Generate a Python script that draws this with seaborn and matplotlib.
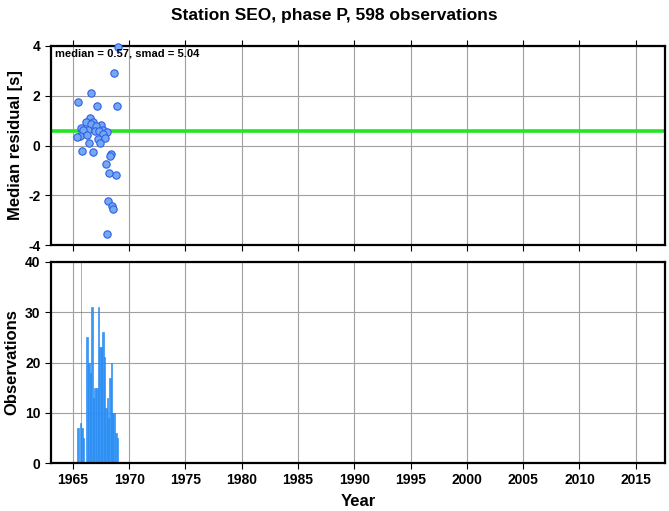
import numpy as np
import pandas as pd
import matplotlib
matplotlib.use("Agg")
import matplotlib.pyplot as plt
import seaborn as sns

# residual scatter (decimal year, median residual in s)
res_year = [1968.97, 1968.64, 1966.57, 1965.47, 1967.13, 1968.88, 1966.48, 1966.13,
            1966.80, 1966.60, 1967.49, 1967.04, 1965.74, 1966.30, 1965.92, 1967.63,
            1966.92, 1967.31, 1967.99, 1965.65, 1966.24, 1967.69, 1965.38, 1967.19,
            1967.84, 1966.42, 1967.40, 1965.83, 1966.75, 1968.40, 1968.29, 1967.90,
            1968.23, 1968.82, 1968.14, 1968.44, 1968.58, 1968.05]
res_value = [3.97, 2.90, 2.12, 1.74, 1.59, 1.59, 1.12, 0.93,
             0.93, 0.86, 0.83, 0.79, 0.69, 0.62, 0.61, 0.62,
             0.59, 0.58, 0.53, 0.39, 0.42, 0.45, 0.35, 0.25,
             0.31, 0.09, 0.11, -0.23, -0.26, -0.34, -0.42, -0.74,
             -1.12, -1.19, -2.22, -2.43, -2.55, -3.56]
median_res = 0.57
smad_res = 5.04

# observation counts per bin (bin start, bin end, count)
bin_start = [1965.355, 1965.592, 1965.735, 1965.760, 1965.888, 1966.154, 1966.362, 1966.510,
             1966.599, 1966.747, 1966.895, 1967.043, 1967.191, 1967.339, 1967.457, 1967.576,
             1967.753, 1967.872, 1967.990, 1968.108, 1968.197, 1968.345, 1968.434, 1968.582,
             1968.730, 1968.878]
bin_end = [1965.503, 1965.710, 1965.760, 1965.888, 1965.947, 1966.362, 1966.510, 1966.599,
           1966.747, 1966.895, 1967.043, 1967.191, 1967.339, 1967.457, 1967.576, 1967.753,
           1967.872, 1967.990, 1968.108, 1968.197, 1968.345, 1968.434, 1968.582, 1968.730,
           1968.878, 1969.026]
bin_count = [7, 8, 40, 7, 5, 25, 20, 18,
             31, 13, 15, 15, 31, 23, 23, 26,
             21, 11, 13, 9, 17, 20, 10, 10,
             6, 5]

year_ticks = list(range(1965, 2020, 5))

sns.set_style("ticks")
plt.rcParams['font.family'] = ['Liberation Sans', 'DejaVu Sans']
plt.rcParams['axes.unicode_minus'] = False
plt.rcParams['text.color'] = 'black'
plt.rcParams['axes.labelcolor'] = 'black'
plt.rcParams['xtick.color'] = 'black'
plt.rcParams['ytick.color'] = 'black'

fig = plt.figure(figsize=(6.69, 5.11), dpi=100)
ax1 = fig.add_axes([0.0762, 0.5205, 0.9178, 0.3895])
ax2 = fig.add_axes([0.0762, 0.0939, 0.9178, 0.3934])

df = pd.DataFrame({"year": res_year, "res": res_value})

for ax in (ax1, ax2):
    ax.set_xlim(1963.05, 2017.6)
    ax.set_xticks(year_ticks)
    ax.grid(True, color="#a0a0a0", lw=0.8)
    ax.set_axisbelow(True)
    for s in ax.spines.values():
        s.set_linewidth(1.6)
        s.set_color("black")
    ax.tick_params(direction="out", length=4, width=0.8, labelsize=10)

# top panel
ax1.axhline(median_res, color="#22e622", lw=2.6, zorder=2)
sns.scatterplot(data=df, x="year", y="res", ax=ax1, s=28, color="#74a9f2",
                edgecolor="#2f5fe8", linewidth=0.8, zorder=3, clip_on=False)
ax1.set_ylim(-4, 4)
ax1.set_yticks([-4, -2, 0, 2, 4])
ax1.tick_params(axis="x", top=True, bottom=True, labelbottom=False)
for lab in ax1.get_yticklabels():
    lab.set_fontweight("bold")
ax1.set_xlabel("")
ax1.set_ylabel("Median residual [s]", fontsize=12, fontweight="bold")
ax1.text(0.007, 0.985, f"median = {median_res:.2f}, smad = {smad_res:.2f}",
         transform=ax1.transAxes, fontsize=8, fontweight="bold", va="top", ha="left")

# bottom panel
widths = np.array(bin_end) - np.array(bin_start)
ax2.bar(bin_start, bin_count, width=widths, align="edge", color="#3a98f7",
        edgecolor="#1e84f0", linewidth=0.4, zorder=2)
ax2.set_ylim(0, 40)
ax2.set_yticks([0, 10, 20, 30, 40])
for lab in ax2.get_yticklabels() + ax2.get_xticklabels():
    lab.set_fontweight("bold")
ax2.set_xlabel("Year", fontsize=12, fontweight="bold", labelpad=5)
ax2.set_ylabel("Observations", fontsize=12, fontweight="bold")

fig.suptitle("Station SEO, phase P, 598 observations", fontsize=12.5,
             fontweight="bold", y=0.985)

fig.savefig("out.png", dpi=100)
